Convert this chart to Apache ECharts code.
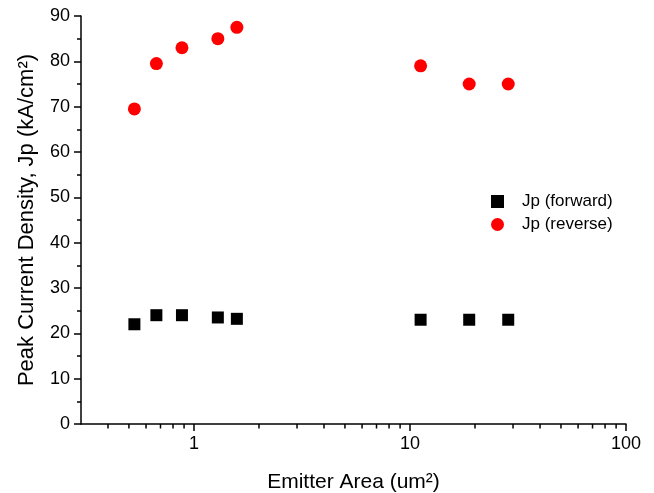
<!DOCTYPE html>
<html>
<head>
<meta charset="utf-8">
<script src="https://cdn.jsdelivr.net/npm/echarts@6/dist/echarts.min.js"></script>
<style>
  html, body { margin: 0; padding: 0; background: #fff; }
  #myChart { width: 654px; height: 493px; }
</style>
</head>
<body>
<div id="myChart"></div>
<script>
// emitter areas (um^2)
var areas = [0.53, 0.67, 0.88, 1.29, 1.58, 11.2, 18.8, 28.5];
var jpForward = [22, 24, 24, 23.5, 23.2, 23, 23, 23];
var jpReverse = [69.5, 79.5, 83, 85, 87.5, 79, 75, 75];
// minor tick positions for the log axis
var minorTicksX = [0.4, 0.5, 0.6, 0.7, 0.8, 0.9, 2, 3, 4, 5, 6, 7, 8, 9, 20, 30, 40, 50, 60, 70, 80, 90];

var fontName = 'Liberation Sans, Arial, sans-serif';

function pairs(xs, ys) {
  return xs.map(function (x, i) { return [x, ys[i]]; });
}

var myChart = echarts.init(document.getElementById('myChart'));
myChart.setOption({
  animation: false,
  textStyle: { fontFamily: fontName, color: '#000' },
  grid: { left: 81, right: 28, top: 16, bottom: 69, outerBoundsMode: 'none', containLabel: false },
  legend: {
    orient: 'vertical',
    left: 491,
    top: 193,
    padding: 0,
    itemWidth: 13,
    itemHeight: 13,
    itemGap: 6,
    data: ['Jp (forward)', 'Jp (reverse)'],
    textStyle: { fontSize: 17, color: '#000', fontFamily: fontName, padding: [0, 0, 0, 13] }
  },
  xAxis: {
    type: 'log',
    logBase: 10,
    min: 0.3,
    max: 100,
    name: 'Emitter Area (um²)',
    nameLocation: 'middle',
    nameGap: 48,
    nameTextStyle: { fontSize: 21, color: '#000', fontFamily: fontName },
    axisLine: { lineStyle: { color: '#000', width: 1.5 } },
    axisTick: { length: 7, lineStyle: { color: '#000', width: 1.5 } },
    axisLabel: { fontSize: 18, color: '#000', margin: 11, showMinLabel: false, fontFamily: fontName },
    splitLine: { show: false }
  },
  yAxis: {
    type: 'value',
    min: 0,
    max: 90,
    interval: 10,
    name: 'Peak Current Density, Jp (kA/cm²)',
    nameLocation: 'middle',
    nameGap: 43,
    nameTextStyle: { fontSize: 22, color: '#000', fontFamily: fontName },
    axisLine: { show: true, lineStyle: { color: '#000', width: 1.5 } },
    axisTick: { show: true, length: 7, lineStyle: { color: '#000', width: 1.5 } },
    minorTick: { show: true, splitNumber: 2, length: 4, lineStyle: { color: '#000', width: 1.5 } },
    axisLabel: { fontSize: 18, color: '#000', margin: 11, fontFamily: fontName },
    splitLine: { show: false }
  },
  series: [
    {
      name: 'Jp (forward)',
      type: 'scatter',
      symbol: 'rect',
      symbolSize: 12,
      itemStyle: { color: '#000', opacity: 1 },
      data: pairs(areas, jpForward)
    },
    {
      name: 'Jp (reverse)',
      type: 'scatter',
      symbol: 'circle',
      symbolSize: 13,
      itemStyle: { color: '#ff0000', opacity: 1 },
      data: pairs(areas, jpReverse)
    },
    {
      // minor ticks on the log x axis
      type: 'custom',
      silent: true,
      clip: false,
      data: minorTicksX.map(function (v) { return [v, 0]; }),
      renderItem: function (params, api) {
        var p = api.coord([api.value(0), 0]);
        return {
          type: 'line',
          shape: { x1: p[0], y1: p[1], x2: p[0], y2: p[1] + 4.5 },
          style: { stroke: '#000', lineWidth: 1.5 }
        };
      }
    }
  ]
});
</script>
</body>
</html>
